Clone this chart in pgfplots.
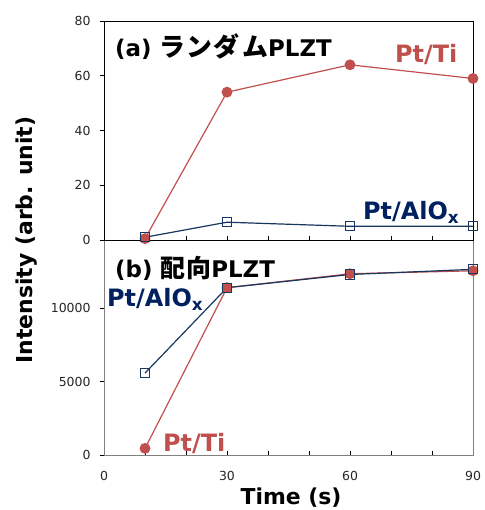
\documentclass[border=0pt]{standalone}
\usepackage{fontspec}
\setmainfont{DejaVu Sans}
\newfontfamily\jp{Noto Sans CJK JP}
\usepackage{pgfplots}
\pgfplotsset{compat=1.18}
\definecolor{tired}{HTML}{C0504D}
\definecolor{alnavy}{HTML}{17375E}
\definecolor{altext}{HTML}{002060}
\begin{document}
\begin{tikzpicture}[x=1bp,y=1bp]
\pgfplotsset{
  common/.style={
    scale only axis, width=369bp,
    xmin=0, xmax=90,
    xtick={0,10,...,90},
    xtick pos=bottom, ytick pos=left,
    tick align=inside,
    major tick length=4bp,
    y tick style={xshift=-4bp, black, line width=0.6bp},
    x tick style={black, line width=0.6bp},
    tick label style={font=\fontsize{12.5}{15}\selectfont, text=black!85},
    /pgf/number format/assume math mode=true,
    yticklabel style={xshift=-10bp},
    clip=false,
  },
  ti/.style={color=tired, line width=1.2bp, mark=*, mark size=4.8bp, mark options={fill=tired, draw=tired}},
  al/.style={color=alnavy, line width=1.2bp, mark=square, mark size=4.6bp, mark options={fill=white, draw=alnavy, line width=1bp}},
}
% bottom axis
\begin{axis}[common, at={(0,0)}, height=215bp,
  ymin=0, ymax=14650, ytick={0,5000,10000},
  scaled y ticks=false,
  yticklabel={\pgfmathprintnumber[fixed, 1000 sep={}]{\tick}},
  xticklabels={0,,,30,,,60,,,90},
  xticklabel style={yshift=-13bp},
  axis line style={draw=black!50, line width=0.8bp},
]
\addplot[ti] coordinates {(10,450) (30,11400) (60,12350) (90,12550)};
\addplot[al] coordinates {(10,5580) (30,11400) (60,12300) (90,12650)};
\end{axis}
% top axis
\begin{axis}[common, at={(0,215bp)}, height=219bp,
  ymin=0, ymax=80, ytick={0,20,...,80},
  xticklabels={},
  axis line style={draw=black, line width=0.8bp},
]
\addplot[ti] coordinates {(10,0.5) (30,54) (60,64) (90,59)};
\addplot[al] coordinates {(10,1.0) (30,6.5) (60,5) (90,5)};
\end{axis}
% texts
\node[anchor=base west, inner sep=0, font=\fontsize{23}{26}\selectfont\bfseries] at (11,398) {(a) {\jp\fontsize{26}{28}\selectfont ラ\hspace{1bp}ン\hspace{1bp}ダ\hspace{3bp}ム}PLZT};
\node[anchor=base west, inner sep=0, font=\fontsize{24}{28}\selectfont\bfseries, text=tired] at (291,392) {Pt/Ti};
\node[anchor=base west, inner sep=0, font=\fontsize{24}{28}\selectfont\bfseries, text=altext] at (259,235) {Pt/AlO\textsubscript{x}};
\node[anchor=base west, inner sep=0, font=\fontsize{23}{26}\selectfont\bfseries] at (11,177) {(b) {\jp\fontsize{25}{28}\selectfont 配\hspace{1bp}向}PLZT};
\node[anchor=base west, inner sep=0, font=\fontsize{24}{28}\selectfont\bfseries, text=altext] at (3,148) {Pt/AlO\textsubscript{x}};
\node[anchor=base west, inner sep=0, font=\fontsize{24}{28}\selectfont\bfseries, text=tired] at (59,3) {Pt/Ti};
\node[rotate=90, inner sep=0, font=\fontsize{22}{26}\selectfont\bfseries] at (-77,215) {Intensity (arb. unit)};
\node[anchor=base, inner sep=0, font=\fontsize{22}{26}\selectfont\bfseries] at (187,-49) {Time (s)};
\path[use as bounding box] (-104,-55) rectangle (378,455);
\end{tikzpicture}
\end{document}
